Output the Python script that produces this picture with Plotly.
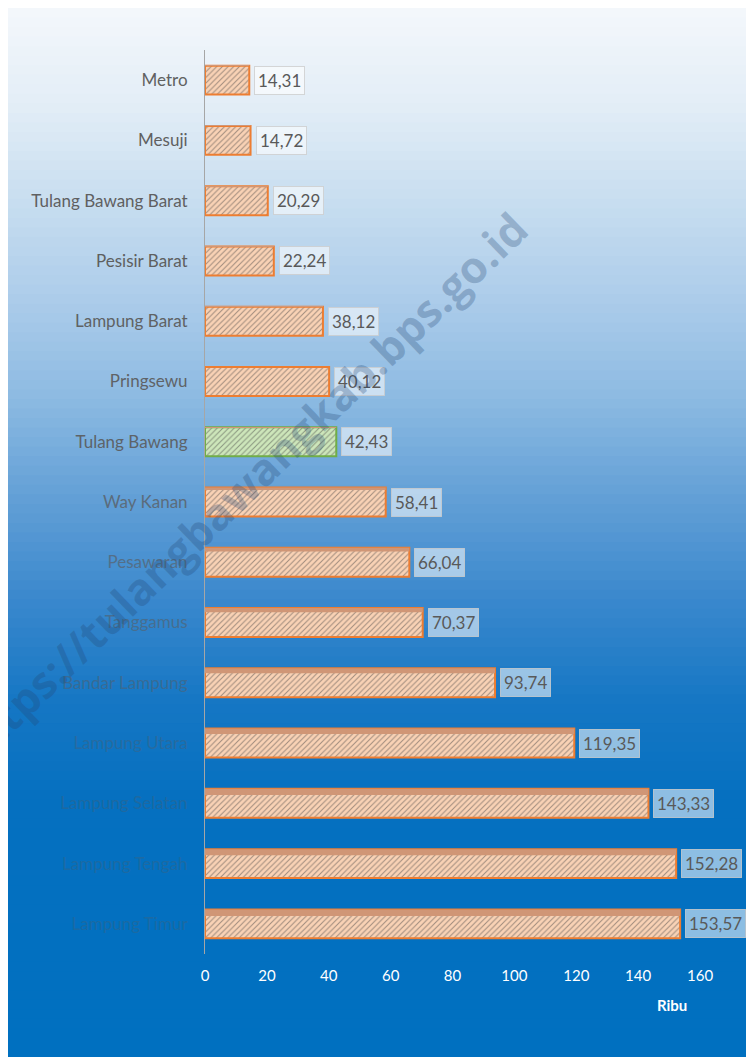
import plotly.graph_objects as go

# ---------------- data ----------------
categories = ["Metro", "Mesuji", "Tulang Bawang Barat", "Pesisir Barat", "Lampung Barat",
              "Pringsewu", "Tulang Bawang", "Way Kanan", "Pesawaran", "Tanggamus",
              "Bandar Lampung", "Lampung Utara", "Lampung Selatan", "Lampung Tengah",
              "Lampung Timur"]
values = [14.31, 14.72, 20.29, 22.24, 38.12, 40.12, 42.43, 58.41, 66.04, 70.37,
          93.74, 119.35, 143.33, 152.28, 153.57]
highlight = "Tulang Bawang"
x_ticks = [0, 20, 40, 60, 80, 100, 120, 140, 160]
x_unit = "Ribu"
watermark = "https://tulangbawangkab.bps.go.id"

# ---------------- geometry / style ----------------
PAGE_OFF = 8                      # browser body margin
W, H = 754 - PAGE_OFF, 1057 - PAGE_OFF
ML, MT = 197, 42
PW, PH = 520, 904
MR, MB = W - ML - PW, H - MT - PH
PX_PER_UNIT = 3.094

def rx(px):   # reference-page pixel x -> paper
    return (px - PAGE_OFF - ML) / PW

def ry(py):   # reference-page pixel y -> paper
    return 1 - (py - PAGE_OFF - MT) / PH

# background gradient stops (reference pixel y, rgb)
stops = [(0, (245, 248, 252)), (100, (228, 238, 247)), (200, (200, 222, 240)),
         (300, (172, 204, 234)), (400, (140, 186, 226)), (500, (98, 159, 214)),
         (600, (58, 136, 205)), (700, (22, 119, 196)), (800, (5, 112, 192)),
         (1057, (0, 112, 192))]

def grad(py):
    for (y0, c0), (y1, c1) in zip(stops[:-1], stops[1:]):
        if y0 <= py <= y1:
            t = (py - y0) / (y1 - y0)
            return tuple(c0[i] + (c1[i] - c0[i]) * t for i in range(3))
    return stops[-1][1]

def hexc(c):
    return "#%02x%02x%02x" % tuple(int(round(v)) for v in c)

shapes = []
n_bands = 110
top, bot = PAGE_OFF, 1057
for k in range(n_bands):
    y0 = top + (bot - top) * k / n_bands
    y1 = top + (bot - top) * (k + 1) / n_bands + 1
    shapes.append(dict(type="rect", xref="paper", yref="paper", layer="below",
                       x0=rx(0), x1=rx(760),
                       y0=ry(y1), y1=ry(y0),
                       line=dict(width=0), fillcolor=hexc(grad((y0 + y1) / 2))))

n = len(categories)
row_px = PH / n
row_y = [PAGE_OFF + MT + row_px * (i + 0.5) for i in range(n)]

# category label colours: grey fading into the background further down
label_alpha = [0.95, 0.95, 0.95, 0.95, 0.92, 0.9, 0.88, 0.72, 0.6, 0.52,
               0.45, 0.33, 0.3, 0.28, 0.28]
grey = (89, 89, 89)
ticktext = []
for cat, a, py in zip(categories, label_alpha, row_y):
    bg = grad(py)
    col = hexc(tuple(grey[i] * a + bg[i] * (1 - a) for i in range(3)))
    ticktext.append(f'<span style="color:{col}">{cat}</span>')

is_hi = [c == highlight for c in categories]
fill_bg = ["#CDE6BA" if h else "#F9D2B5" for h in is_hi]
fill_fg = ["#78B550" if h else "#EB9F6C" for h in is_hi]
edge = ["#70AD47" if h else "#ED7D31" for h in is_hi]

BAR_W = 0.48
strip_w = [0, 0, 0, 0, 0, 0, 0, 0.04, 0.06, 0.07, 0.08, 0.09, 0.1, 0.1, 0.11]

fig = go.Figure()
fig.add_trace(go.Bar(
    y=categories, x=values, orientation="h", width=BAR_W,
    marker=dict(color=fill_bg,
                line=dict(color=edge, width=2),
                pattern=dict(shape="/", fgcolor=fill_fg, size=4, solidity=0.25,
                             fillmode="overlay")),
    hoverinfo="skip", showlegend=False))
fig.add_trace(go.Bar(
    y=categories, x=values, orientation="h", width=strip_w,
    offset=-BAR_W / 2,
    marker=dict(color="#D09676", line=dict(width=0)),
    hoverinfo="skip", showlegend=False))

annotations = []
for cat, v in zip(categories, values):
    annotations.append(dict(
        x=v, y=cat, xref="x", yref="y", xanchor="left", yanchor="middle",
        xshift=5, showarrow=False, text=f"{v:.2f}".replace(".", ","),
        font=dict(family="Lato", size=17, color="#595959"),
        bgcolor="rgba(255,255,255,0.55)", bordercolor="rgba(205,205,205,0.8)",
        borderwidth=1, borderpad=3))

annotations.append(dict(
    x=rx(672), y=ry(1005), xref="paper", yref="paper",
    xanchor="center", yanchor="middle",
    text=f"<b>{x_unit}</b>", showarrow=False,
    font=dict(family="Lato", size=15, color="white")))

annotations.append(dict(
    x=rx(242), y=ry(488), xref="paper", yref="paper",
    xanchor="center", yanchor="middle",
    text=f"<b>{watermark}</b>", showarrow=False, textangle=-44,
    font=dict(family="Open Sans", size=44, color="rgba(35,70,115,0.28)")))

fig.update_layout(
    width=W, height=H,
    margin=dict(l=ML, r=MR, t=MT, b=MB),
    paper_bgcolor="#0070C0", plot_bgcolor="rgba(0,0,0,0)",
    barmode="overlay",
    font=dict(family="Lato"),
    shapes=shapes, annotations=annotations,
    xaxis=dict(range=[0, PW / PX_PER_UNIT], tickvals=x_ticks,
               tickfont=dict(family="Lato", size=15, color="white"),
               showgrid=False, zeroline=False, showline=False,
               ticks="outside", ticklen=8, tickcolor="rgba(0,0,0,0)"),
    yaxis=dict(type="category", categoryorder="array", categoryarray=categories,
               autorange="reversed", tickvals=categories, ticktext=ticktext,
               tickfont=dict(family="Lato", size=17, color="#595959"),
               showgrid=False, zeroline=False, showline=True,
               linecolor="#A6A6A6", linewidth=1,
               ticks="outside", ticklen=13, tickcolor="rgba(0,0,0,0)"),
)

fig.write_html("out.html")
